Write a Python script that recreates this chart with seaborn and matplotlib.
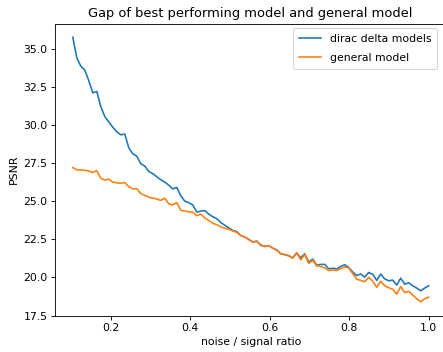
import numpy as np
import pandas as pd
import matplotlib
matplotlib.use("Agg")
import matplotlib.pyplot as plt
import seaborn as sns

# noise / signal ratio sampling grid
ratio = np.linspace(0.105, 1.0, 90)

dirac_delta_models = [
    35.75, 34.4, 33.85, 33.6, 32.9, 32.1, 32.2, 31.2, 30.55, 30.2,
    29.85, 29.55, 29.35, 29.4, 28.5, 28.1, 27.95, 27.45, 27.3, 26.95,
    26.8, 26.6, 26.4, 26.25, 26.05, 25.8, 25.9, 25.35, 25.0, 24.9,
    24.75, 24.28, 24.35, 24.38, 24.15, 23.98, 23.85, 23.6, 23.42, 23.25,
    23.08, 23.0, 22.75, 22.65, 22.5, 22.32, 22.38, 22.1, 22.05, 22.08,
    21.92, 21.8, 21.55, 21.5, 21.42, 21.28, 21.6, 21.28, 21.55, 21.0,
    21.2, 20.8, 20.85, 20.85, 20.56, 20.6, 20.55, 20.72, 20.83, 20.65,
    20.35, 20.12, 20.22, 20.02, 20.32, 20.2, 19.8, 20.22, 19.9, 19.78,
    19.82, 19.5, 19.95, 19.55, 19.65, 19.45, 19.3, 19.12, 19.3, 19.45,
]

general_model = [
    27.2, 27.05, 27.05, 27.02, 26.98, 26.88, 27.0, 26.5, 26.38, 26.45,
    26.25, 26.2, 26.18, 26.22, 25.95, 25.8, 25.82, 25.5, 25.38, 25.26,
    25.2, 25.14, 25.05, 25.2, 24.82, 24.75, 24.9, 24.4, 24.35, 24.3,
    24.28, 24.05, 24.15, 23.9, 23.72, 23.55, 23.45, 23.32, 23.22, 23.15,
    23.05, 22.95, 22.75, 22.64, 22.48, 22.32, 22.36, 22.15, 22.02, 22.08,
    21.92, 21.78, 21.55, 21.48, 21.42, 21.26, 21.62, 21.15, 21.5, 20.92,
    21.12, 20.75, 20.72, 20.62, 20.45, 20.48, 20.45, 20.58, 20.68, 20.62,
    20.25, 19.88, 19.8, 19.72, 20.0, 19.75, 19.35, 19.75, 19.45, 19.32,
    19.22, 18.9, 19.4, 19.0, 19.08, 18.85, 18.6, 18.4, 18.6, 18.7,
]

series_names = ["dirac delta models", "general model"]
colors = ["#1f77b4", "#ff7f0e"]

df = pd.DataFrame({
    "ratio": np.concatenate([ratio, ratio]),
    "PSNR": dirac_delta_models + general_model,
    "series": [series_names[0]] * len(ratio) + [series_names[1]] * len(ratio),
})

DPI = 78
plt.rcParams["font.family"] = ["DejaVu Sans"]
fig = plt.figure(figsize=(443 / DPI, 352 / DPI), dpi=DPI)
ax = fig.add_axes([55 / 443, 36.5 / 352, 391.5 / 443, 291.5 / 352])

sns.lineplot(data=df, x="ratio", y="PSNR", hue="series",
             palette=dict(zip(series_names, colors)), ax=ax, linewidth=1.5)

ax.set_title("Gap of best performing model and general model", fontsize=12)
ax.set_xlabel("noise / signal ratio")
ax.set_ylabel("PSNR")
ax.set_yticks([17.5, 20.0, 22.5, 25.0, 27.5, 30.0, 32.5, 35.0])
ax.set_xticks([0.2, 0.4, 0.6, 0.8, 1.0])
ax.legend(loc="upper right", title=None, borderaxespad=0,
          labelspacing=0.85, borderpad=0.55,
          bbox_to_anchor=((437 - 55) / 391.5, 1 - 4 / 291.5))

fig.savefig("out.png", dpi=DPI)
